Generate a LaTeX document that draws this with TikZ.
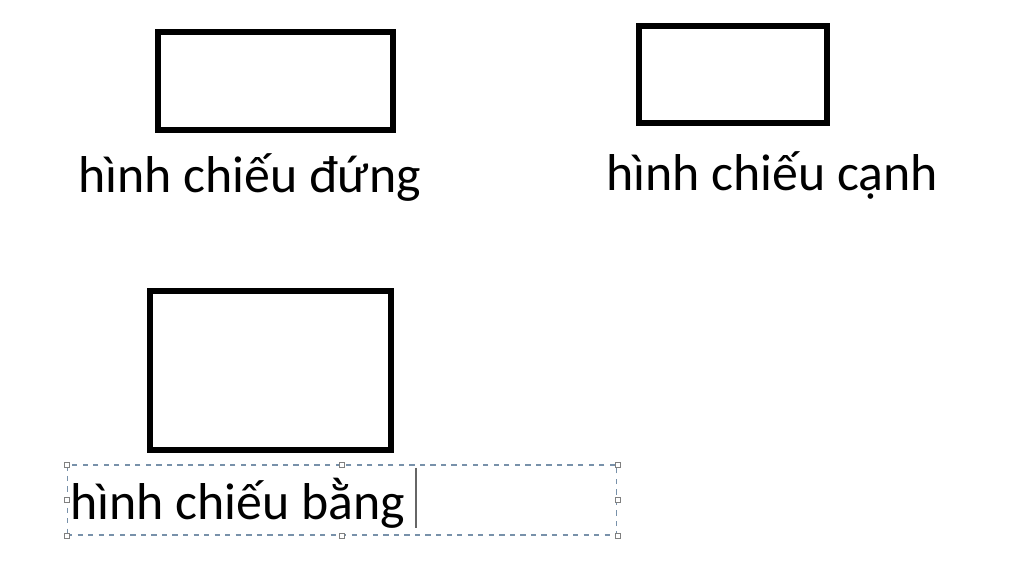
\documentclass[tikz,border=0pt]{standalone}
\usepackage{fontspec}
\setmainfont{Carlito}
\definecolor{khungmau}{RGB}{120,145,170}

\begin{document}
\begin{tikzpicture}[x=0.02cm,y=-0.02cm,
    hinh/.style={draw=black,line width=0.12cm,inner sep=0pt},
    nhan/.style={anchor=base west,inner sep=0pt,font=\fontsize{29.5}{35}\selectfont},
    tay/.style={draw=gray,fill=white,line width=0.4pt,inner sep=0pt,minimum size=0.1cm}]
    \useasboundingbox (0,0) rectangle (1024,563);
    \begin{scope}
      \node[hinh,minimum width=4.7cm,minimum height=1.96cm] (dung) at (275.5,81) {};
      \node[hinh,minimum width=3.76cm,minimum height=1.94cm] (canh) at (733,74.5) {};
      \node[hinh,minimum width=4.82cm,minimum height=3.18cm] (bang) at (270.5,370.5) {};
      \node[nhan] (tdung) at (78,193) {hình chiếu đứng};
      \node[nhan] (tcanh) at (606,191) {hình chiếu cạnh};
      \node[draw=khungmau,dashed,line width=0.6pt,inner sep=0pt,
        minimum width=11cm,minimum height=1.4cm] (khung) at (342,500) {};
      \foreach \g in {north west,north,north east,east,south east,south,south west,west}
        \node[tay] at (khung.\g) {};
      \node[nhan] (tbang) at (70,520) {hình chiếu bằng};
      \draw[gray!80!black,line width=0.04cm] (416,468) -- (416,528);
    \end{scope}
\end{tikzpicture}
\end{document}
